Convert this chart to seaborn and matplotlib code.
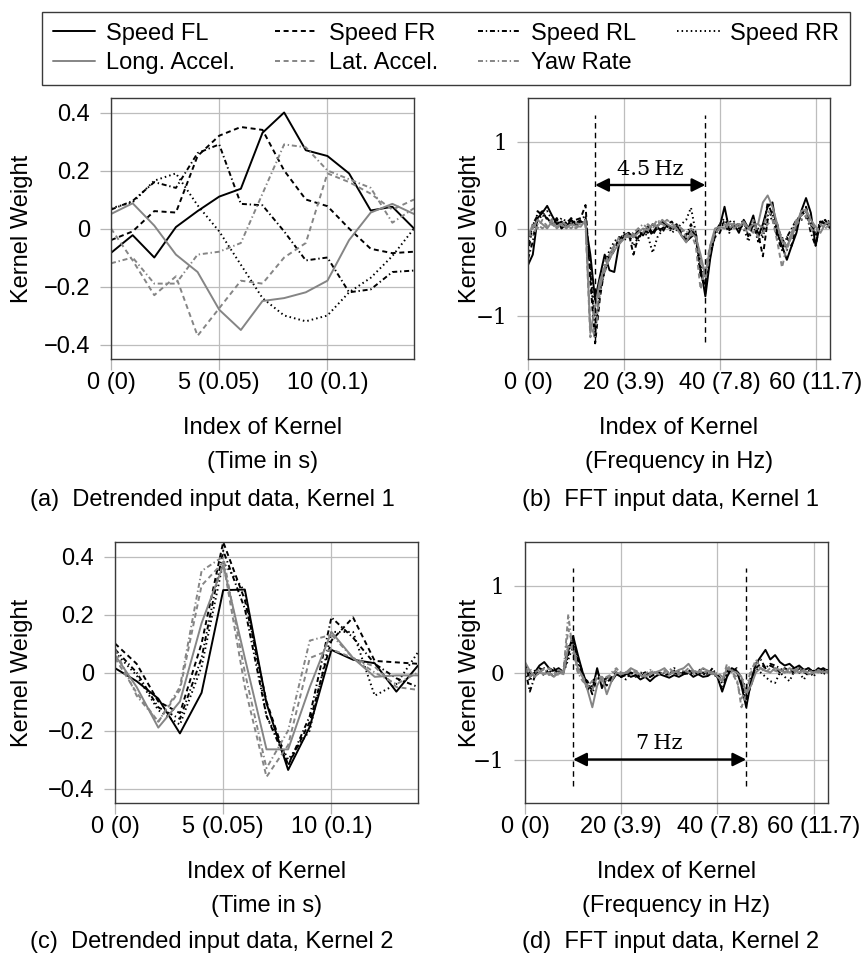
import numpy as np
import pandas as pd
import matplotlib
matplotlib.use("Agg")
import matplotlib.pyplot as plt
from matplotlib.lines import Line2D
import seaborn as sns

# ---------------- data ----------------
SIGNALS = ["Speed FL", "Speed FR", "Speed RL", "Speed RR",
           "Long. Accel.", "Lat. Accel.", "Yaw Rate"]

# (a) detrended input, kernel 1 (15 taps)
A_FL = [-0.084, -0.023, -0.10, 0.005, 0.06, 0.11, 0.137, 0.33, 0.40, 0.27, 0.25, 0.19, 0.062, 0.075, 0.0]
A_FR = [-0.04, -0.01, 0.06, 0.055, 0.25, 0.32, 0.35, 0.34, 0.20, 0.10, 0.077, 0.0, -0.07, -0.085, -0.08]
A_RL = [0.065, 0.095, 0.16, 0.14, 0.26, 0.29, 0.085, 0.08, -0.01, -0.11, -0.10, -0.22, -0.21, -0.15, -0.145]
A_RR = [0.07, 0.09, 0.165, 0.19, 0.08, -0.01, -0.125, -0.24, -0.30, -0.32, -0.30, -0.22, -0.17, -0.095, 0.0]
A_LONG = [0.05, 0.087, 0.01, -0.09, -0.15, -0.28, -0.35, -0.25, -0.24, -0.22, -0.18, -0.04, 0.055, 0.085, 0.05]
A_LAT = [0.0, -0.11, -0.23, -0.165, -0.37, -0.275, -0.18, -0.19, -0.10, -0.05, 0.19, 0.16, 0.12, 0.065, 0.10]
A_YAW = [-0.12, -0.10, -0.19, -0.19, -0.09, -0.08, -0.05, 0.12, 0.29, 0.28, 0.20, 0.17, 0.14, 0.02, 0.07]

# (c) detrended input, kernel 2 (15 taps)
C_FL = [0.015, -0.03, -0.09, -0.21, -0.07, 0.284, 0.286, -0.106, -0.336, -0.187, 0.078, 0.044, 0.032, -0.066, 0.024]
C_FR = [0.10, 0.03, -0.10, -0.14, 0.10, 0.45, 0.25, -0.10, -0.32, -0.17, 0.11, 0.19, 0.04, 0.035, 0.03]
C_RL = [0.08, 0.0, -0.12, -0.16, 0.05, 0.42, 0.22, -0.15, -0.32, -0.15, 0.19, 0.12, 0.03, -0.02, -0.05]
C_RR = [0.07, -0.01, -0.13, -0.18, 0.02, 0.38, 0.28, -0.15, -0.30, -0.20, 0.14, 0.14, -0.08, -0.04, 0.07]
C_LONG = [0.06, -0.05, -0.19, -0.10, 0.17, 0.37, 0.05, -0.265, -0.265, -0.05, 0.14, 0.05, -0.015, -0.01, -0.01]
C_LAT = [0.05, -0.07, -0.17, -0.06, 0.30, 0.38, -0.05, -0.36, -0.25, 0.05, 0.08, 0.05, 0.02, -0.05, -0.06]
C_YAW = [0.08, -0.08, -0.17, -0.05, 0.35, 0.40, 0.0, -0.33, -0.20, 0.11, 0.13, 0.05, 0.0, -0.04, 0.0]

# (b) FFT input, kernel 1 (64 taps)
B_FL = [-0.42, -0.30, 0.12, 0.18, 0.26, 0.15, 0.05, 0.08, 0.02, 0.10, 0.05, 0.08, 0.06, -0.30, -0.82, -0.55,
        -0.30, -0.48, -0.50, -0.18, -0.08, -0.05, -0.10, -0.02, -0.08, 0.02, -0.05, 0.03, 0.08, 0.02, 0.00, 0.05,
        -0.08, -0.15, -0.10, -0.05, -0.45, -0.78, -0.35, -0.05, 0.02, 0.25, -0.02, 0.05, -0.05, 0.10, 0.00, 0.15,
        -0.10, 0.05, 0.25, 0.30, -0.05, -0.20, -0.36, -0.20, -0.05, 0.20, 0.35, 0.18, -0.20, 0.08, 0.05, 0.05]
B_FR = [-0.30, 0.05, 0.15, 0.20, 0.10, 0.05, 0.12, 0.00, 0.08, 0.05, 0.10, 0.12, 0.27, -0.60, -1.32, -0.80,
        -0.45, -0.35, -0.25, -0.10, -0.12, -0.05, -0.30, -0.10, -0.05, 0.00, -0.08, 0.02, -0.05, 0.05, -0.02, 0.03,
        -0.05, -0.12, 0.00, -0.10, -0.55, -0.65, -0.25, -0.10, -0.05, 0.10, 0.02, 0.05, 0.00, 0.05, -0.02, 0.08,
        -0.05, -0.32, 0.10, 0.20, 0.05, -0.15, -0.10, -0.20, 0.05, 0.15, 0.25, 0.05, -0.10, 0.05, 0.10, 0.00]
B_RL = [-0.35, -0.15, 0.20, 0.15, 0.12, 0.05, 0.10, 0.00, 0.05, 0.12, 0.06, 0.10, 0.15, -0.50, -1.20, -0.70,
        -0.50, -0.30, -0.20, -0.15, -0.05, -0.10, -0.05, -0.15, 0.00, -0.05, 0.05, -0.02, 0.00, 0.05, 0.08, -0.02,
        0.00, -0.08, 0.05, -0.10, -0.50, -0.70, -0.30, -0.05, 0.05, 0.05, -0.05, 0.08, 0.03, 0.10, -0.10, 0.05,
        -0.15, -0.05, 0.30, 0.15, -0.10, -0.25, -0.10, 0.00, 0.10, 0.15, 0.20, -0.05, -0.20, 0.10, 0.05, 0.02]
B_RR = [-0.20, 0.05, 0.10, 0.15, 0.20, 0.10, 0.05, 0.12, 0.08, 0.10, 0.02, 0.08, 0.10, -0.40, -1.10, -0.75,
        -0.40, -0.25, -0.15, -0.10, -0.15, -0.05, -0.20, -0.10, -0.05, -0.08, -0.28, -0.10, -0.02, 0.05, -0.05, 0.00,
        0.05, 0.10, 0.24, -0.05, -0.40, -0.60, -0.30, -0.10, 0.05, 0.12, 0.10, 0.00, 0.05, 0.00, -0.15, 0.05,
        0.00, -0.10, 0.15, 0.10, -0.05, -0.10, -0.25, -0.05, 0.10, 0.10, 0.12, 0.10, -0.05, 0.08, 0.05, 0.10]
B_LONG = [-0.05, 0.00, 0.10, 0.05, 0.00, 0.08, 0.02, 0.05, 0.00, 0.05, 0.03, 0.02, 0.10, -1.20, -0.90, -0.60,
          -0.45, -0.35, -0.25, -0.18, -0.12, -0.08, -0.10, -0.05, 0.00, -0.02, 0.05, 0.02, 0.10, 0.05, 0.02, 0.00,
          -0.08, -0.16, -0.05, -0.10, -0.30, -0.55, -0.20, 0.00, 0.02, 0.00, 0.05, 0.05, 0.02, 0.08, 0.00, 0.05,
          0.05, 0.30, 0.38, 0.25, 0.05, -0.15, -0.20, -0.10, 0.05, 0.20, 0.22, 0.10, 0.02, -0.05, 0.05, 0.08]
B_LAT = [-0.10, 0.05, 0.00, 0.10, 0.02, 0.05, 0.00, 0.08, 0.04, 0.00, 0.06, 0.05, 0.05, -1.25, -1.10, -0.65,
         -0.50, -0.30, -0.20, -0.15, -0.10, -0.05, -0.08, 0.00, -0.05, 0.05, 0.00, 0.08, 0.05, 0.10, 0.05, 0.02,
         0.00, -0.10, -0.05, -0.20, -0.70, -0.45, -0.20, -0.05, 0.00, 0.05, 0.00, 0.05, 0.05, 0.00, -0.05, 0.10,
         -0.10, -0.05, 0.05, 0.10, -0.15, -0.45, -0.20, -0.05, 0.10, 0.15, 0.20, 0.00, -0.05, 0.05, 0.00, 0.05]
B_YAW = [-0.05, -0.10, 0.05, 0.00, 0.05, 0.10, 0.00, 0.05, 0.02, 0.05, 0.00, 0.05, 0.05, -1.10, -1.25, -0.70,
         -0.40, -0.30, -0.20, -0.10, -0.08, -0.10, -0.05, 0.00, 0.05, 0.00, 0.02, 0.10, 0.05, 0.02, 0.00, 0.05,
         0.00, -0.05, 0.00, -0.05, -0.40, -0.60, -0.25, -0.05, 0.00, 0.02, 0.08, 0.00, 0.05, 0.05, 0.00, -0.05,
         0.05, 0.00, 0.20, 0.15, 0.00, -0.10, -0.25, -0.05, 0.05, 0.10, 0.15, 0.05, 0.00, 0.05, 0.00, 0.05]

# (d) FFT input, kernel 2 (64 taps)
D_FL = [0.05, -0.05, 0.00, 0.08, 0.12, 0.05, 0.02, 0.05, 0.00, 0.25, 0.42, 0.20, 0.00, -0.15, -0.20, 0.05,
        -0.18, -0.05, -0.10, -0.02, -0.05, 0.00, -0.05, -0.03, -0.08, -0.05, -0.10, -0.05, -0.02, -0.04, -0.06, -0.03,
        -0.05, -0.02, 0.00, -0.05, -0.02, -0.05, -0.04, 0.00, -0.05, -0.22, -0.05, 0.05, 0.02, -0.15, -0.40, -0.10,
        0.10, 0.18, 0.26, 0.15, 0.20, 0.12, 0.08, 0.10, 0.05, 0.08, 0.03, 0.05, 0.00, 0.05, 0.02, 0.03]
D_FR = [0.10, 0.00, -0.05, 0.05, 0.02, 0.00, 0.05, -0.02, 0.05, 0.30, 0.35, 0.15, 0.00, -0.20, -0.10, -0.05,
        -0.10, -0.15, -0.05, 0.00, -0.05, -0.03, 0.00, -0.05, -0.02, 0.00, -0.05, -0.02, 0.00, -0.03, -0.02, 0.00,
        -0.03, 0.00, 0.03, -0.02, 0.00, -0.03, 0.02, 0.00, -0.02, -0.10, 0.02, 0.00, 0.05, -0.10, -0.30, -0.15,
        0.05, 0.10, 0.05, 0.08, 0.05, 0.00, 0.05, 0.02, 0.00, 0.05, 0.00, -0.02, 0.02, 0.00, 0.03, 0.00]
D_RL = [0.05, -0.22, -0.05, 0.00, 0.05, 0.00, -0.05, 0.02, 0.00, 0.20, 0.38, 0.15, -0.05, -0.10, -0.25, -0.05,
        -0.10, -0.05, -0.08, 0.00, -0.05, -0.02, 0.00, -0.02, -0.05, 0.00, -0.03, 0.00, -0.02, 0.00, -0.02, 0.02,
        0.00, -0.02, 0.00, 0.02, -0.02, 0.00, -0.02, 0.05, -0.05, -0.20, -0.02, 0.05, 0.00, -0.05, -0.35, -0.10,
        0.10, 0.15, 0.05, 0.10, 0.08, 0.05, 0.00, 0.02, 0.05, 0.00, 0.03, 0.05, 0.00, 0.02, 0.05, 0.02]
D_RR = [0.08, -0.10, 0.02, 0.00, -0.03, 0.05, 0.00, 0.02, 0.00, 0.15, 0.30, 0.10, -0.05, -0.20, -0.15, 0.00,
        -0.08, -0.12, -0.05, 0.00, -0.05, -0.08, 0.00, -0.05, 0.00, -0.02, -0.05, 0.00, -0.02, 0.02, -0.02, 0.05,
        0.02, 0.00, -0.02, 0.00, 0.02, 0.05, 0.00, -0.02, -0.05, -0.12, 0.00, 0.02, 0.00, -0.05, -0.20, -0.05,
        0.05, 0.00, -0.05, -0.10, -0.12, 0.00, -0.05, -0.10, 0.02, 0.00, -0.08, 0.02, -0.05, 0.05, -0.03, 0.05]
D_LONG = [0.12, 0.02, -0.05, 0.00, -0.02, 0.00, -0.05, 0.00, -0.02, 0.30, 0.28, 0.05, -0.05, -0.20, -0.40, -0.15,
          -0.05, -0.25, -0.10, 0.00, -0.02, 0.00, 0.05, 0.02, -0.03, -0.05, -0.02, 0.00, 0.02, 0.05, -0.02, 0.00,
          0.03, 0.05, 0.10, 0.02, 0.00, 0.05, 0.02, 0.00, -0.05, -0.10, 0.05, 0.02, 0.00, -0.05, -0.25, -0.15,
          0.00, 0.05, 0.02, 0.00, 0.05, 0.03, 0.00, 0.05, 0.02, 0.00, 0.03, -0.02, 0.00, 0.02, 0.00, 0.02]
D_LAT = [0.05, -0.05, 0.00, 0.03, -0.02, 0.05, 0.00, -0.03, 0.02, 0.50, 0.30, 0.00, -0.05, -0.15, -0.20, -0.05,
         -0.10, -0.05, -0.02, 0.03, 0.00, -0.02, 0.03, 0.00, -0.05, -0.03, 0.00, 0.02, -0.03, 0.00, 0.05, 0.00,
         -0.02, 0.00, 0.05, 0.00, 0.03, -0.02, 0.02, 0.00, -0.03, -0.10, 0.10, 0.00, -0.05, -0.40, -0.25, 0.00,
         0.15, 0.05, 0.00, 0.05, 0.02, 0.00, 0.05, 0.00, 0.03, 0.05, 0.00, 0.02, 0.00, 0.03, 0.00, 0.02]
D_YAW = [0.00, 0.05, -0.05, 0.00, 0.05, -0.03, 0.00, 0.03, 0.00, 0.67, 0.20, 0.00, -0.10, -0.15, -0.10, -0.05,
         -0.05, -0.10, 0.00, 0.05, -0.02, 0.00, -0.03, 0.02, 0.00, -0.02, 0.03, 0.00, -0.02, 0.02, 0.00, 0.02,
         0.00, 0.03, 0.00, -0.02, 0.00, 0.02, 0.00, -0.02, 0.00, -0.05, 0.05, 0.00, -0.10, -0.30, -0.20, 0.05,
         0.10, 0.05, 0.02, 0.00, 0.05, 0.02, 0.00, 0.02, 0.00, 0.05, 0.02, 0.00, 0.02, 0.00, 0.02, 0.00]

TIME_TICKS = [0, 5, 10]
TIME_TICK_LABELS = ["0 (0)", "5 (0.05)", "10 (0.1)"]
TIME_YTICKS = [-0.4, -0.2, 0.0, 0.2, 0.4]
TIME_YTICK_LABELS = ["\u22120.4", "\u22120.2", "0", "0.2", "0.4"]
FREQ_TICKS = [0, 20, 40, 60]
FREQ_TICK_LABELS = ["0 (0)", "20 (3.9)", "40 (7.8)", "60 (11.7)"]
FREQ_YTICKS = [-1, 0, 1]
FREQ_YTICK_LABELS = ["\u22121", "0", "1"]

# annotations (b) and (d): marker bins and label
B_MARK_BINS = [14, 37]
B_MARK_LABEL = "4.5\u2009Hz"
D_MARK_BINS = [10, 46]
D_MARK_LABEL = "7\u2009Hz"

CAPTIONS = ["(a)  Detrended input data, Kernel 1", "(b)  FFT input data, Kernel 1",
            "(c)  Detrended input data, Kernel 2", "(d)  FFT input data, Kernel 2"]

# ---------------- style ----------------
sns.set_theme(style="white")
plt.rcParams["font.family"] = ["Liberation Sans", "DejaVu Sans"]
plt.rcParams["lines.scale_dashes"] = False
plt.rcParams["text.color"] = "black"
plt.rcParams["axes.labelcolor"] = "black"

BLACK = "#000000"
GRAY = "#858585"
PALETTE = {"Speed FL": BLACK, "Speed FR": BLACK, "Speed RL": BLACK, "Speed RR": BLACK,
           "Long. Accel.": GRAY, "Lat. Accel.": GRAY, "Yaw Rate": GRAY}
DASHES = {"Speed FL": "", "Speed FR": (3.6, 2.6), "Speed RL": (3.6, 2.0, 1.0, 2.0), "Speed RR": (1.1, 2.2),
          "Long. Accel.": "", "Lat. Accel.": (3.6, 2.6), "Yaw Rate": (3.6, 2.0, 1.0, 2.0)}
FS = 17
LW = 1.4


def make_df(series):
    frames = []
    for name, vals in zip(SIGNALS, series):
        frames.append(pd.DataFrame({"idx": np.arange(len(vals)), "w": vals, "signal": name}))
    return pd.concat(frames, ignore_index=True)


fig = plt.figure(figsize=(8.67, 9.56), dpi=100)
W, H = 867.0, 956.0


def add_ax(left, right, top, bottom):
    return fig.add_axes([left / W, 1 - bottom / H, (right - left) / W, (bottom - top) / H])


axA = add_ax(111, 414, 98, 359)
axB = add_ax(528, 830, 98, 359)
axC = add_ax(115, 418, 542, 803)
axD = add_ax(525, 828, 542, 803)

panels = [
    (axA, [A_FL, A_FR, A_RL, A_RR, A_LONG, A_LAT, A_YAW], "time"),
    (axB, [B_FL, B_FR, B_RL, B_RR, B_LONG, B_LAT, B_YAW], "freq"),
    (axC, [C_FL, C_FR, C_RL, C_RR, C_LONG, C_LAT, C_YAW], "time"),
    (axD, [D_FL, D_FR, D_RL, D_RR, D_LONG, D_LAT, D_YAW], "freq"),
]

ylab_x = {axA: (22 - 111) / 303, axB: (470 - 528) / 302, axC: (22 - 115) / 303, axD: (470 - 525) / 303}

for ax, series, kind in panels:
    df = make_df(series)
    sns.lineplot(data=df, x="idx", y="w", hue="signal", style="signal",
                 hue_order=SIGNALS, style_order=SIGNALS,
                 palette=PALETTE, dashes=DASHES, linewidth=LW,
                 estimator=None, errorbar=None, legend=False, ax=ax)
    ax.set_axisbelow(True)
    ax.grid(True, color="#bdbdbd", lw=0.9)
    for sp in ax.spines.values():
        sp.set_visible(True)
        sp.set_color("#3a3a3a")
        sp.set_linewidth(1.0)
    if kind == "time":
        ax.set_xlim(0, 14)
        ax.set_ylim(-0.45, 0.45)
        ax.set_xticks(TIME_TICKS, TIME_TICK_LABELS)
        ax.set_yticks(TIME_YTICKS, TIME_YTICK_LABELS)
        xl2 = "(Time in s)"
    else:
        ax.set_xlim(0, 63)
        ax.set_ylim(-1.5, 1.5)
        ax.set_xticks(FREQ_TICKS, FREQ_TICK_LABELS)
        ax.set_yticks(FREQ_YTICKS, FREQ_YTICK_LABELS, fontfamily="DejaVu Serif", fontsize=15.5)
        xl2 = "(Frequency in Hz)"
    ax.tick_params(axis="both", which="major", bottom=True, left=True, direction="out",
                   length=8, width=0.9, color="#b5b5b5", labelcolor="black")
    ax.tick_params(axis="x", labelsize=FS, pad=1.5)
    ax.tick_params(axis="y", pad=7)
    if kind == "time":
        ax.tick_params(axis="y", labelsize=FS)
    ax.set_xlabel("Index of Kernel\n" + xl2, fontsize=FS, linespacing=1.7)
    ax.xaxis.set_label_coords(0.5, -0.222)
    ax.xaxis.label.set_verticalalignment("top")
    ax.set_ylabel("Kernel Weight", fontsize=FS)
    ax.yaxis.set_label_coords(ylab_x[ax], 0.5)
    ax.yaxis.label.set_verticalalignment("center")

# frequency markers
for ax, bins, label, lo, hi, ay, ty in [
        (axB, B_MARK_BINS, B_MARK_LABEL, -1.3, 1.3, 0.5, 0.68),
        (axD, D_MARK_BINS, D_MARK_LABEL, -1.3, 1.2, -1.0, -0.82)]:
    for b in bins:
        ax.plot([b, b], [lo, hi], color="black", lw=1.0, dashes=(4.0, 3.0))
    ax.annotate("", xy=(bins[1], ay), xytext=(bins[0], ay),
                arrowprops=dict(arrowstyle="<|-|>", color="black", lw=1.7,
                                mutation_scale=20, shrinkA=0, shrinkB=0))
    ax.text((bins[0] + bins[1]) / 2, ty, label, ha="center", va="center",
            fontfamily="DejaVu Serif", fontsize=15, color="black")

# captions
for (cx, cy), cap in zip([(212, 500), (671, 500), (212, 942), (671, 942)], CAPTIONS):
    fig.text(cx / W, 1 - cy / H, cap, ha="center", va="center", fontsize=FS)

# legend
handles = []
for s in SIGNALS:
    h = Line2D([], [], color=PALETTE[s], lw=LW)
    if DASHES[s]:
        h.set_dashes(DASHES[s])
    handles.append(h)
order = [0, 4, 1, 5, 2, 6, 3]
leg = fig.legend([handles[i] for i in order], [SIGNALS[i] for i in order],
                 ncol=4, loc="upper center", bbox_to_anchor=(446 / W, 1 - 12 / H),
                 fontsize=FS, frameon=True, fancybox=False, framealpha=1,
                 borderpad=0.45, handlelength=1.8, handletextpad=0.45,
                 columnspacing=1.72, labelspacing=0.33, borderaxespad=0)
leg.get_frame().set_edgecolor("#3a3a3a")
leg.get_frame().set_linewidth(1.0)

fig.savefig("out.png", dpi=100)
